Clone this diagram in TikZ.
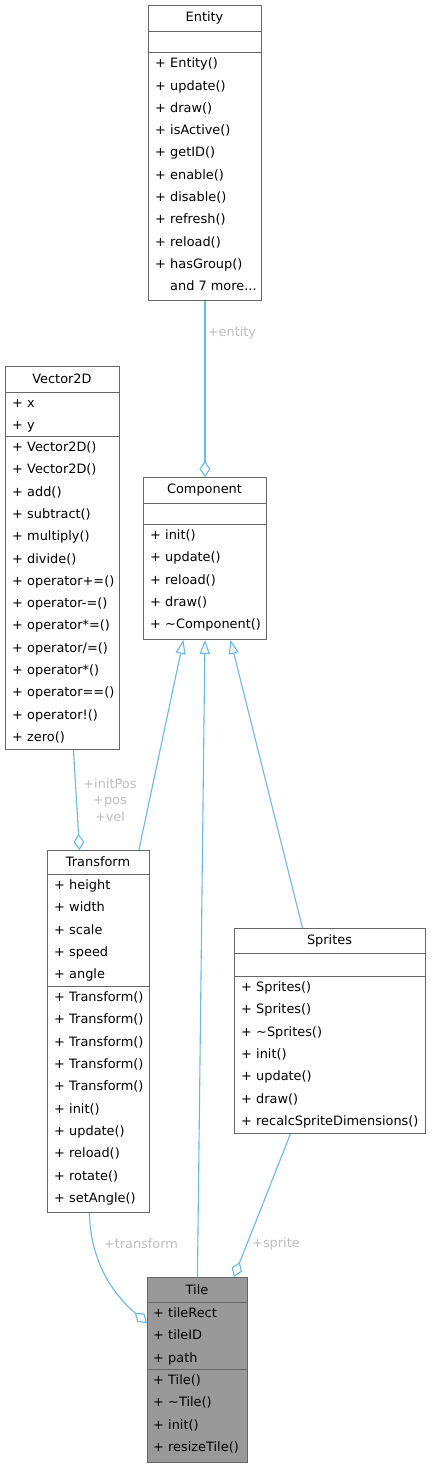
\documentclass[tikz,border=0pt]{standalone}
\usepackage{fontspec}
\setmainfont{DejaVu Sans}
\usetikzlibrary{arrows.meta,positioning,calc}
\definecolor{boxline}{HTML}{666666}
\definecolor{edgeblue}{HTML}{63B8FF}
\definecolor{lblgrey}{HTML}{BEBEBE}
\definecolor{tilefill}{HTML}{999999}
\newcommand{\memfont}{\fontsize{12.9}{16.5}\selectfont}

\tikzset{
  cls/.style={draw=boxline, line width=0.9pt, inner sep=0pt, anchor=north west},
  sep/.style={boxline, line width=0.9pt},
  ttl/.style={inner sep=0pt, font=\memfont},
  mem/.style={anchor=base west, inner sep=0pt, font=\memfont},
  rlbl/.style={inner sep=0pt, font=\memfont, text=lblgrey, align=center},
  agg/.style={edgeblue, line width=1.1pt, -{Diamond[open, length=16pt, width=11pt]}},
  inh/.style={edgeblue, line width=1.1pt, -{Triangle[open, length=14pt, width=10pt]}},
}

\begin{document}
\begin{tikzpicture}[x=1pt, y=-1pt]
  \useasboundingbox (0,0) rectangle (431,1467);

  % Entity
  \node[cls, minimum width=113pt, minimum height=295pt] (entity) at (148,5) {};
  \node[ttl] (entityttl) at (204.5,18) {Entity};
  \draw[sep] (148,31) -- (261,31) (148,52) -- (261,52);
  \foreach \m [count=\i from 0] in {Entity(), update(), draw(), isActive(), getID(),
                                    enable(), disable(), refresh(), reload(), hasGroup()}{
    \node[mem] (entp\i) at (155,67.7+22.3*\i) {+};
    \node[mem] (entm\i) at (170,67.7+22.3*\i) {\m};}
  \node[mem] (entmore) at (170,67.7+22.3*10) {and 7 more...};

  % Vector2D
  \node[cls, minimum width=114pt, minimum height=383pt] (vec) at (5,366) {};
  \node[ttl] (vecttl) at (62,379) {Vector2D};
  \draw[sep] (5,392) -- (119,392) (5,436) -- (119,436);
  \foreach \m [count=\i from 0] in {x, y}{
    \node[mem] (vecap\i) at (12,407.5+22.3*\i) {+};
    \node[mem] (vecam\i) at (27,407.5+22.3*\i) {\m};}
  \foreach \m [count=\i from 0] in {Vector2D(), Vector2D(), add(), subtract(), multiply(),
                                    divide(), operator+=(), operator-=(), operator*=(),
                                    operator/=(), operator*(), operator==(), operator!(), zero()}{
    \node[mem] (vecp\i) at (12,451.5+22.3*\i) {+};
    \node[mem] (vecm\i) at (27,451.5+22.3*\i) {\m};}

  % Component
  \node[cls, minimum width=123pt, minimum height=162pt] (comp) at (143,477) {};
  \node[ttl] (compttl) at (204.5,490) {Component};
  \draw[sep] (143,503) -- (266,503) (143,524) -- (266,524);
  \foreach \m [count=\i from 0] in {init(), update(), reload(), draw(), \textasciitilde Component()}{
    \node[mem] (compp\i) at (150,539.6+22.3*\i) {+};
    \node[mem] (compm\i) at (165,539.6+22.3*\i) {\m};}

  % Transform
  \node[cls, minimum width=102pt, minimum height=362pt] (trans) at (47,850) {};
  \node[ttl] (transttl) at (98,862) {Transform};
  \draw[sep] (47,874) -- (149,874) (47,986) -- (149,986);
  \foreach \m [count=\i from 0] in {height, width, scale, speed, angle}{
    \node[mem] (transap\i) at (54,889.6+22.3*\i) {+};
    \node[mem] (transam\i) at (69,889.6+22.3*\i) {\m};}
  \foreach \m [count=\i from 0] in {Transform(), Transform(), Transform(), Transform(), Transform(),
                                    init(), update(), reload(), rotate(), setAngle()}{
    \node[mem] (transp\i) at (54,1001.6+22.3*\i) {+};
    \node[mem] (transm\i) at (69,1001.6+22.3*\i) {\m};}

  % Sprites
  \node[cls, minimum width=191pt, minimum height=205pt] (spr) at (234,928) {};
  \node[ttl] (sprttl) at (329.5,941) {Sprites};
  \draw[sep] (234,953) -- (425,953) (234,976) -- (425,976);
  \foreach \m [count=\i from 0] in {Sprites(), Sprites(), \textasciitilde Sprites(), init(),
                                    update(), draw(), recalcSpriteDimensions()}{
    \node[mem] (sprp\i) at (241,991.6+22.3*\i) {+};
    \node[mem] (sprm\i) at (256,991.6+22.3*\i) {\m};}

  % Tile
  \node[cls, fill=tilefill, minimum width=100pt, minimum height=185pt] (tile) at (147,1277) {};
  \node[ttl] (tilettl) at (197,1290) {Tile};
  \draw[sep] (147,1302) -- (247,1302) (147,1369) -- (247,1369);
  \foreach \m [count=\i from 0] in {tileRect, tileID, path}{
    \node[mem] (tileap\i) at (153,1317.6+22.3*\i) {+};
    \node[mem] (tileam\i) at (168,1317.6+22.3*\i) {\m};}
  \foreach \m [count=\i from 0] in {Tile(), \textasciitilde Tile(), init(), resizeTile()}{
    \node[mem] (tilep\i) at (153,1384.6+22.3*\i) {+};
    \node[mem] (tilem\i) at (168,1384.6+22.3*\i) {\m};}

  % inheritance
  \draw[inh] ([xshift=-11pt]trans.north east) -- ([xshift=-21.5pt]comp.south);
  \draw[inh] (tile.north) -- (comp.south);
  \draw[inh] ([xshift=-27.5pt]spr.north) -- ([xshift=25.5pt]comp.south);

  % aggregation
  \draw[agg] (entity.south) -- (comp.north);
  \node[rlbl] (lblentity) at (232,333) {+entity};
  \draw[agg] ([xshift=11pt]vec.south) -- ([xshift=-19pt]trans.north);
  \node[rlbl] (lblvec) at (110,800) {+initPos\\+pos\\+vel};
  \draw[agg] ([xshift=-9pt]trans.south) .. controls (90,1255) and (108,1290) .. ([yshift=-46pt]tile.north west);
  \node[rlbl] (lbltrans) at (141,1244) {+transform};
  \draw[agg] ([xshift=-39.5pt]spr.south) -- ([xshift=-14pt]tile.north east);
  \node[rlbl] (lblspr) at (276,1244) {+sprite};
\end{tikzpicture}
\end{document}
